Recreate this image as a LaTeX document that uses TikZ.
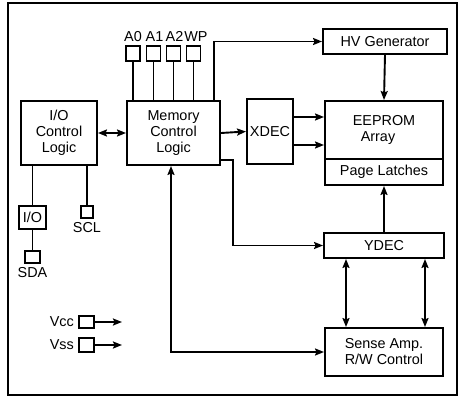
\documentclass[tikz,border=0pt]{standalone}
\usepackage{fontspec}
\setmainfont{Liberation Sans}
\usetikzlibrary{arrows.meta}
\begin{document}
\begin{tikzpicture}[x=1pt,y=-1pt,
  lw/.style={line width=1.9pt},
  box/.style={draw,lw,inner sep=0pt,align=center,font=\fontsize{14.4}{16}\selectfont},
  pin/.style={draw,lw,inner sep=0pt},
  lbl/.style={inner sep=0pt,font=\fontsize{14.4}{16}\selectfont},
  arr/.style={lw,-{Stealth[length=9pt,width=7pt,inset=1.5pt]}},
  darr/.style={lw,{Stealth[length=9pt,width=7pt,inset=1.5pt]}-{Stealth[length=9pt,width=7pt,inset=1.5pt]}},
  con/.style={lw}]
\useasboundingbox (0,0) rectangle (463,404);
\draw[line width=2.2pt] (8,3) rectangle (457,395);

% main blocks
\node[box,minimum width=76pt,minimum height=64pt] (io) at (59,133) {I/O\\Control\\Logic};
\node[box,minimum width=93pt,minimum height=64pt] (mem) at (173.5,133) {Memory\\Control\\Logic};
\node[box,minimum width=124pt,minimum height=25pt] (hv) at (385,41.5) {HV Generator};
\node[box,minimum width=46pt,minimum height=65pt] (xdec) at (270,131.5) {XDEC};
\node[box,minimum width=118pt,minimum height=58pt] (array) at (384,130) {EEPROM\\\hspace*{-12pt}Array};
\node[box,minimum width=118pt,minimum height=26pt] (latch) at (384,172) {Page Latches};
\node[box,minimum width=120pt,minimum height=25pt] (ydec) at (384,245.5) {YDEC};
\node[box,minimum width=118pt,minimum height=48pt] (sense) at (384,352) {Sense Amp.\\R/W Control};

% address pins
\foreach \n/\t/\x/\dx in {a0/A0/133/0,a1/A1/153.5/1,a2/A2/173.5/1,wp/WP/193.5/2.5}{
  \node[pin,minimum width=14pt,minimum height=15pt] (\n) at (\x,53.5) {};
  \node[lbl,anchor=south] (\n l) at (\n.north) [yshift=3pt,xshift=\dx pt] {\t};
  \draw[con] (\n.south) -- (\n.south |- mem.north);
}

% I/O side
\node[box,minimum width=27pt,minimum height=23pt] (iob) at (32.5,217.5) {I/O};
\node[pin,minimum width=15pt,minimum height=12pt] (sda) at (32.5,257) {};
\node[lbl,anchor=north] (sdal) at (sda.south) [yshift=-3pt] {SDA};
\node[pin,minimum width=12pt,minimum height=12pt] (scl) at (87,212) {};
\node[lbl,anchor=north] (scll) at (scl.south) [yshift=-3pt] {SCL};
\draw[con] (iob.north) -- (iob.north |- io.south);
\draw[con] (iob.south) -- (sda.north);
\draw[con] (scl.north) -- (scl.north |- io.south);

% power pins
\node[pin,minimum width=15pt,minimum height=12pt] (vcc) at (86.5,322) {};
\node[lbl,anchor=east] (vccl) at (vcc.west) [xshift=-4pt] {Vcc};
\coordinate (vcce) at (122,322);
\draw[arr] (vcc.east) -- (vcce);
\node[pin,minimum width=15pt,minimum height=14pt] (vss) at (86.5,345) {};
\node[lbl,anchor=east] (vssl) at (vss.west) [xshift=-4pt] {Vss};
\coordinate (vsse) at (122,345);
\draw[arr] (vss.east) -- (vsse);

% connectors
\draw[darr] (io.east) -- (mem.west);
\draw[arr] ([xshift=-7pt]mem.north east) |- (hv.west);
\draw[arr] (mem.east) -- (xdec.west);
\draw[arr] ([yshift=14.5pt]xdec.east) coordinate (t1) -- (t1 -| array.west);
\draw[arr] ([yshift=-13.5pt]xdec.east) coordinate (t2) -- (t2 -| array.west);
\draw[arr] (hv.south) -- (array.north);
\draw[arr] (ydec.north) -- (latch.south);
\coordinate (j1) at (233,160);
\draw[arr] (mem.east |- j1) -- (j1) |- (ydec.west);
\draw[darr] ([xshift=-38pt]ydec.south) -- ([xshift=-38pt]sense.north);
\draw[darr] ([xshift=41pt]ydec.south) -- ([xshift=41pt]sense.north);
\draw[darr] ([xshift=-2.5pt]mem.south) |- (sense.west);
\end{tikzpicture}
\end{document}
